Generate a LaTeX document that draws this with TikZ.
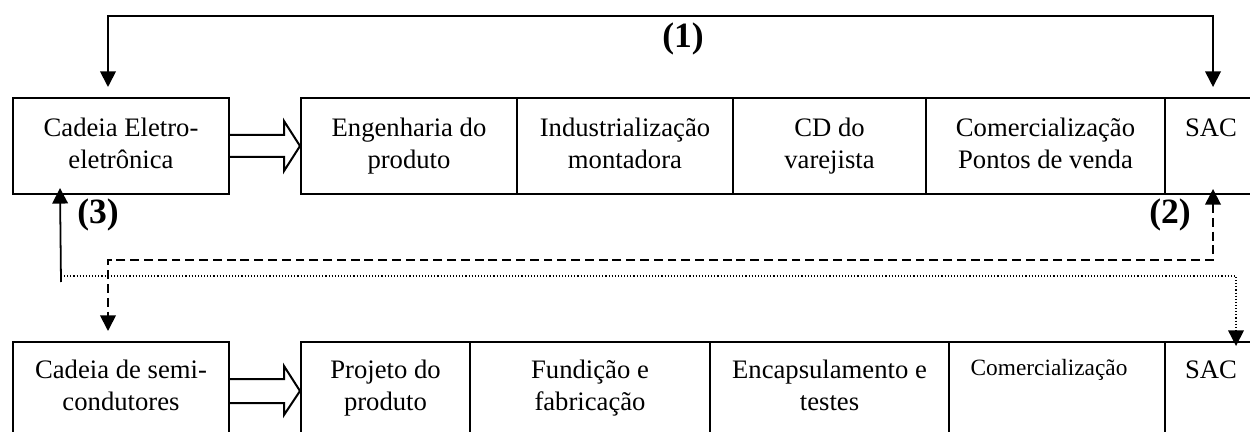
\documentclass[tikz,border=0pt]{standalone}
\usepackage{fontspec}
\setmainfont{Liberation Serif}
\usetikzlibrary{arrows.meta,calc,fit}
\begin{document}
\begin{tikzpicture}[x=0.45pt,y=-0.45pt,
  >={Triangle[width=7pt,length=7pt]},
  cell/.style={draw,line width=0.9pt,inner sep=0pt,rectangle},
  lbl/.style={anchor=north,inner sep=0pt,align=center,font=\fontsize{12}{14.4}\selectfont},
  slbl/.style={anchor=base,inner sep=0pt,font=\fontsize{10.5}{12.6}\selectfont},
  num/.style={anchor=base,inner sep=0pt,font=\fontsize{16}{19}\selectfont\bfseries},
  conn/.style={line width=0.8pt},
  dashedline/.style={line width=0.8pt,dash pattern=on 4pt off 2.2pt},
  dottedline/.style={line width=0.7pt,dash pattern=on 0.5pt off 0.9pt},
  hollow/.style={line width=0.9pt,line join=miter}]
\useasboundingbox (0,0) rectangle (1250,432);
\clip (0,0) rectangle (1250,432);

% top row
\node[cell, fit={(13,98) (229,194)}] (ce) {};
\node[cell, fit={(301,98) (517,194)}] (e1) {};
\node[cell, fit={(517,98) (733,194)}] (e2) {};
\node[cell, fit={(733,98) (926,194)}] (e3) {};
\node[cell, fit={(926,98) (1165,194)}] (e4) {};
\node[cell, fit={(1165,98) (1261,194)}] (sac1) {};

\node[lbl] at ($(ce.north)+(0,17)$) {\strut Cadeia Eletro-\\eletrônica};
\node[lbl] at ($(e1.north)+(0,17)$) {\strut Engenharia do\\produto};
\node[lbl] at ($(e2.north)+(0,17)$) {\strut Industrialização\\montadora};
\node[lbl] at ($(e3.north)+(0,17)$) {\strut CD do\\varejista};
\node[lbl] at ($(e4.north)+(0,17)$) {\strut Comercialização\\Pontos de venda};
\node[lbl] at ($(sac1.north)+(-2,17)$) {\strut SAC};

% bottom row
\node[cell, fit={(13,342) (229,440)}] (cs) {};
\node[cell, fit={(301,342) (470,440)}] (b1) {};
\node[cell, fit={(470,342) (710,440)}] (b2) {};
\node[cell, fit={(710,342) (949,440)}] (b3) {};
\node[cell, fit={(949,342) (1165,440)}] (b4) {};
\node[cell, fit={(1165,342) (1261,440)}] (sac2) {};

\node[lbl] at ($(cs.north)+(0,15)$) {\strut Cadeia de semi-\\condutores};
\node[lbl] at ($(b1.north)+(0,15)$) {\strut Projeto do\\produto};
\node[lbl] at ($(b2.north)+(0,15)$) {\strut Fundição e\\fabricação};
\node[lbl] at ($(b3.north)+(0,15)$) {\strut Encapsulamento e\\testes};
\node[slbl] at ($(b4.north)+(-8,34)$) {Comercialização};
\node[lbl] at ($(sac2.north)+(-2,15)$) {\strut SAC};

% hollow arrows
\draw[hollow] ($(ce.east)+(0,-11)$) -- ++(54,0) -- ++(0,-14) -- (e1.west)
  -- ($(ce.east)+(54,25)$) -- ++(0,-14) -- ($(ce.east)+(0,11)$);
\draw[hollow] ($(cs.east)+(0,-12)$) -- ++(54,0) -- ++(0,-13) -- (b1.west)
  -- ($(cs.east)+(54,24)$) -- ++(0,-12) -- ($(cs.east)+(0,12)$);

% labels
\node[num] (n1) at (683,48) {(1)};
\node[num] (n2) at (1170,223) {(2)};
\node[num] (n3) at (98,223) {(3)};

% connector (1)
\draw[conn,<->] ($(ce.north west)+(96,-10)$) |- ($(sac1.north)+(0,-81)$) -- ($(sac1.north)+(0,-10)$);
% connector (2)
\draw[dashedline,<->] ($(sac1.south)+(0,-6)$) |- ($(cs.north west)+(96,-81)$) -- ($(cs.north west)+(96,-10)$);
% connector (3)
\coordinate (j3) at (61,282);
\draw[conn,->] (j3) -- ($(ce.south west)+(48,-7)$);
\coordinate (j4) at (61,276);
\draw[dottedline,->] (j4) -| ($(sac2.north west)+(72,5)$);
\end{tikzpicture}
\end{document}
